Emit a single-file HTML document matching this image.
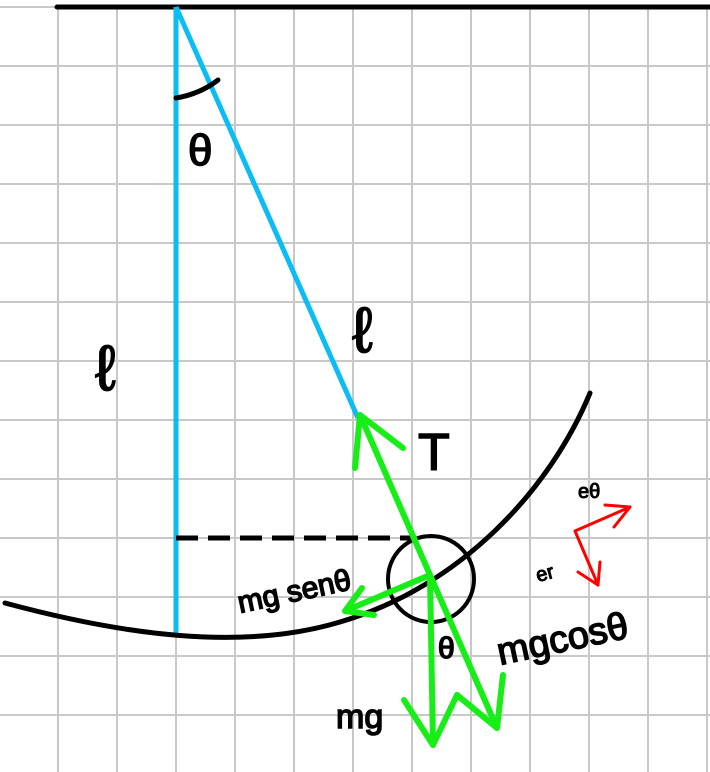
<!DOCTYPE html>
<html><head><meta charset="utf-8"><style>
html,body{margin:0;padding:0;background:#fff}
svg{display:block}
text{font-family:"Liberation Sans",sans-serif;fill:#000;stroke:#000;stroke-width:1.5}
</style></head><body>
<svg width="710" height="772" viewBox="0 0 710 772">
<g id="grid" stroke="#c8c8c8" stroke-width="2"></g>
<line x1="57" y1="7" x2="710" y2="7" stroke="#000" stroke-width="5" stroke-linecap="round"/>
<line x1="176" y1="7" x2="176" y2="633" stroke="#0cbcf5" stroke-width="5"/>
<line x1="176" y1="7" x2="358" y2="418" stroke="#0cbcf5" stroke-width="5"/>
<path d="M176,98 Q200,94 218,80" fill="none" stroke="#000" stroke-width="5" stroke-linecap="round"/>
<path d="M5,603 C120,634 240,652 340,622 C460,587 550,490 590,393" fill="none" stroke="#000" stroke-width="5" stroke-linecap="round"/>
<line x1="176" y1="538" x2="412" y2="538" stroke="#000" stroke-width="5" stroke-dasharray="22,10"/>
<circle cx="431" cy="579" r="43" fill="none" stroke="#000" stroke-width="4"/>
<g stroke="#17ee17" stroke-width="6" fill="none" stroke-linecap="round" stroke-linejoin="round">
<line x1="360" y1="415" x2="497" y2="728"/>
<polyline points="355,468 360,415 403,448"/>
<polyline points="457,695 497,728 503,675"/>
<line x1="430" y1="575" x2="433" y2="745"/>
<polyline points="404,700 433,745 457,695"/>
<line x1="430" y1="575" x2="345" y2="611"/>
<polyline points="362,588 345,611 374,615"/>
</g>
<g stroke="#f00" stroke-width="3" fill="none" stroke-linecap="round" stroke-linejoin="round">
<polyline points="630,507 575,531 598,585"/>
<polyline points="605,505 630,507 614,527"/>
<polyline points="578,572 598,585 600,562"/>
</g>
<text x="188" y="165" font-size="44">θ</text>
<text x="95" y="390" font-size="64">ℓ</text>
<text x="352" y="352" font-size="64">ℓ</text>
<text x="418" y="470" font-size="52">T</text>
<text x="240" y="613" font-size="30" transform="rotate(-12 240 613)">mg senθ</text>
<text x="438" y="658" font-size="30">θ</text>
<text x="500" y="665" font-size="38" transform="rotate(-12 500 665)">mgcosθ</text>
<text x="336" y="728" font-size="34">mg</text>
<text x="578" y="498" font-size="20" style="stroke-width:1">eθ</text>
<text x="538" y="582" font-size="20" style="stroke-width:1" transform="rotate(-15 538 582)">er</text>
</svg>
<script>
const g=document.getElementById('grid');
for(let i=0;i<13;i++){const x=58+59*i;const l=document.createElementNS('http://www.w3.org/2000/svg','line');
l.setAttribute('x1',x);l.setAttribute('x2',x);l.setAttribute('y1',7);l.setAttribute('y2',772);


g.appendChild(l);}
for(let i=0;i<14;i++){const y=7+59*i;const l=document.createElementNS('http://www.w3.org/2000/svg','line');
l.setAttribute('x1',0);l.setAttribute('x2',710);l.setAttribute('y1',y);l.setAttribute('y2',y);


g.appendChild(l);}
</script>
</body></html>
